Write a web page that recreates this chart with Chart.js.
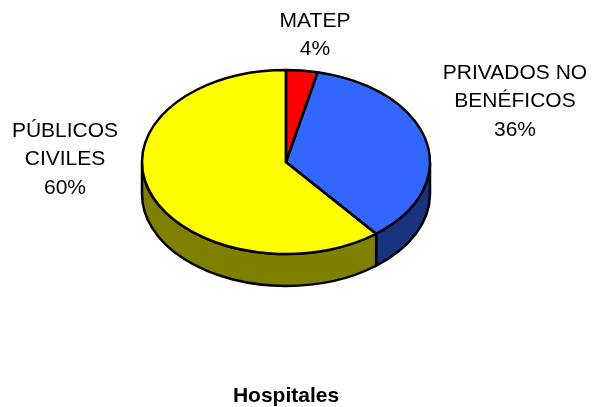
<!DOCTYPE html>
<html>
<head>
<meta charset="utf-8">
<title>Hospitales</title>
<style>
    html, body { margin: 0; padding: 0; background: #fff; }
    canvas { display: block; }
</style>
<script src="https://cdn.jsdelivr.net/npm/chart.js@4"></script>
</head>
<body>
<canvas id="pieChart" width="593" height="407"></canvas>
<script>
const categories = ['MATEP', 'PRIVADOS NO BENÉFICOS', 'PÚBLICOS CIVILES'];
const shares = [3.5, 35.5, 60.4];
const chartTitle = 'Hospitales';
const labelLines = [['MATEP'], ['PRIVADOS NO', 'BENÉFICOS'], ['PÚBLICOS', 'CIVILES']];

const topColors = ['#FF0000', '#3366FF', '#FFFF00'];
const sideColors = ['#800000', '#19337F', '#808000'];

const squash = 92 / 144;   // tilt of the pie
const depth = 32;
const outlineWidth = 2.5;
const labelFont = '21px "Liberation Sans", Arial, sans-serif';
const lineHeight = 28.5;
// centre x and first line centre y of each label
const labelSpots = [[315, 21], [515, 73], [65, 131]];

const tiltedPie = {
    id: 'tiltedPie',
    beforeDatasetsDraw(chart) {
        const ctx = chart.ctx;
        // rim first, only the part facing the viewer (angles 0..PI on canvas)
        chart.getDatasetMeta(0).data.forEach((arc, i) => {
            const from = Math.max(arc.startAngle, 0);
            const to = Math.min(arc.endAngle, Math.PI);
            if (from >= to) return;
            const rx = arc.outerRadius;
            const ry = rx * squash;
            ctx.beginPath();
            ctx.ellipse(arc.x, arc.y, rx, ry, 0, from, to);
            ctx.ellipse(arc.x, arc.y + depth, rx, ry, 0, to, from, true);
            ctx.closePath();
            ctx.fillStyle = sideColors[i];
            ctx.fill();
            ctx.lineWidth = outlineWidth;
            ctx.strokeStyle = '#000';
            ctx.stroke();
        });
        // the library's arcs get drawn squashed
        const cy = chart.getDatasetMeta(0).data[0].y;
        ctx.save();
        ctx.translate(0, cy);
        ctx.scale(1, squash);
        ctx.translate(0, -cy);
    },
    afterDatasetsDraw(chart) {
        const ctx = chart.ctx;
        ctx.restore();
        // outlines after the restore so the line width stays even
        chart.getDatasetMeta(0).data.forEach(arc => {
            const rx = arc.outerRadius;
            ctx.beginPath();
            ctx.moveTo(arc.x, arc.y);
            ctx.ellipse(arc.x, arc.y, rx, rx * squash, 0, arc.startAngle, arc.endAngle);
            ctx.closePath();
            ctx.lineWidth = outlineWidth;
            ctx.lineJoin = 'round';
            ctx.strokeStyle = '#000';
            ctx.stroke();
        });
        ctx.font = labelFont;
        ctx.fillStyle = '#000';
        ctx.textAlign = 'center';
        ctx.textBaseline = 'middle';
        labelLines.forEach((lines, i) => {
            const rows = lines.concat(Math.round(shares[i]) + '%');
            rows.forEach((row, r) => {
                ctx.fillText(row, labelSpots[i][0], labelSpots[i][1] + r * lineHeight);
            });
        });
    }
};

new Chart(document.getElementById('pieChart').getContext('2d'), {
    type: 'pie',
    data: {
        labels: categories,
        datasets: [{
            data: shares,
            backgroundColor: topColors,
            borderWidth: 0
        }]
    },
    options: {
        responsive: false,
        animation: false,
        layout: { padding: { left: 142, right: 163, top: 18, bottom: -1.5 } },
        plugins: {
            legend: { display: false },
            tooltip: { enabled: false },
            title: {
                display: true,
                text: chartTitle,
                position: 'bottom',
                color: '#000',
                font: { family: '"Liberation Sans", Arial, sans-serif', size: 21, weight: 'bold' },
                padding: { top: 77.3, bottom: 0 }
            }
        }
    },
    plugins: [tiltedPie]
});
</script>
</body>
</html>
